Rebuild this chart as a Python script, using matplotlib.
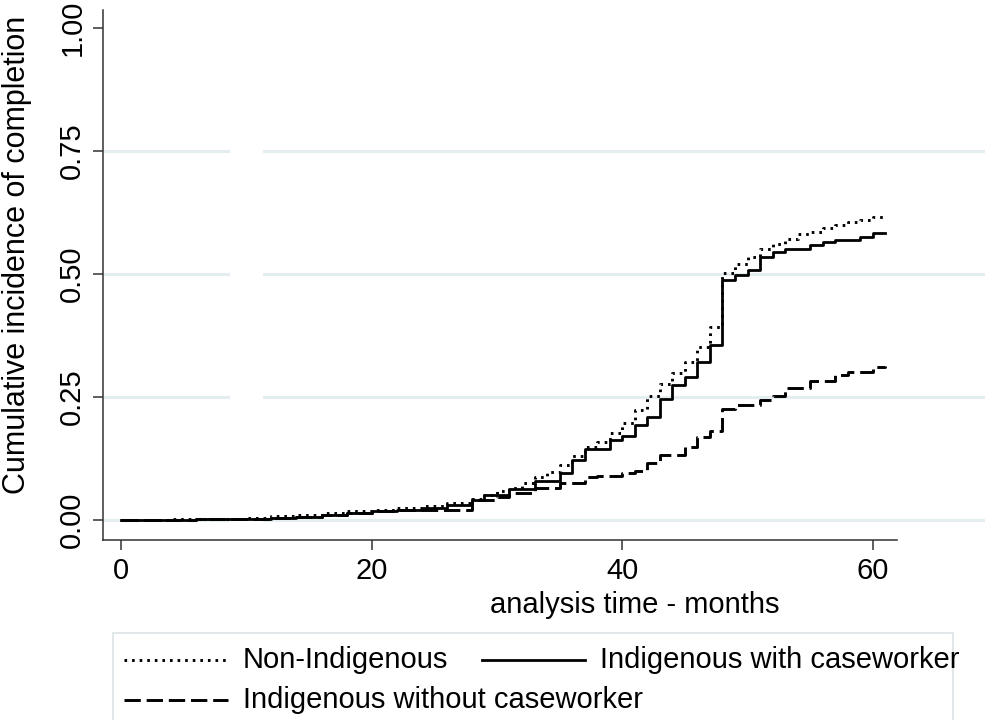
import matplotlib
matplotlib.use('Agg')
import matplotlib.pyplot as plt
from matplotlib.lines import Line2D
from matplotlib.patches import Rectangle

plt.rcParams['font.family'] = ['Liberation Sans', 'DejaVu Sans']

# cumulative incidence (months, value)
months_ni = [0, 4, 6, 8, 10, 12, 14, 16, 18, 20, 22, 24, 26, 28,
             29, 30, 31, 32, 33, 34, 35, 36, 37, 38, 39, 40, 41, 42, 43, 44, 45, 46, 47, 48,
             49, 50, 51, 52, 53, 54, 55, 56, 57, 58, 59, 60, 61]
cif_ni = [0, 0.001, 0.002, 0.003, 0.005, 0.008, 0.011, 0.014, 0.018, 0.021, 0.024, 0.028, 0.034, 0.043,
          0.051, 0.058, 0.064, 0.075, 0.088, 0.098, 0.112, 0.13, 0.148, 0.158, 0.176, 0.197, 0.224,
          0.251, 0.276, 0.298, 0.322, 0.352, 0.393, 0.501,
          0.52, 0.535, 0.55, 0.56, 0.571, 0.581, 0.586, 0.593, 0.6, 0.606, 0.61, 0.616, 0.618]

months_wc = [0, 6, 10, 12, 14, 16, 18, 20, 22, 24, 26, 28,
             29, 31, 33, 35, 36, 37, 39, 40, 41, 42, 43, 44, 45, 46, 47, 48,
             49, 50, 51, 52, 53, 55, 56, 57, 59, 60, 61]
cif_wc = [0, 0.001, 0.002, 0.004, 0.007, 0.01, 0.015, 0.018, 0.02, 0.025, 0.031, 0.04,
          0.05, 0.063, 0.08, 0.095, 0.122, 0.144, 0.163, 0.171, 0.193, 0.21, 0.246, 0.274,
          0.291, 0.322, 0.356, 0.488,
          0.498, 0.508, 0.534, 0.545, 0.551, 0.559, 0.566, 0.569, 0.576, 0.583, 0.584]

months_woc = [0, 6, 10, 12, 14, 16, 18, 20, 22, 24, 28,
              30, 31, 33, 35, 37, 38, 40, 41, 42, 43, 45, 46, 47, 48,
              49, 51, 52, 53, 55, 57, 58, 60, 61]
cif_woc = [0, 0.001, 0.002, 0.004, 0.006, 0.01, 0.015, 0.018, 0.02, 0.021, 0.04,
           0.047, 0.055, 0.064, 0.075, 0.088, 0.09, 0.095, 0.1, 0.115, 0.132, 0.149, 0.169,
           0.181, 0.225,
           0.234, 0.244, 0.252, 0.268, 0.283, 0.295, 0.301, 0.31, 0.312]

labels = ['Non-Indigenous', 'Indigenous with caseworker', 'Indigenous without caseworker']
xticks = [0, 20, 40, 60]
yticks = [0, 0.25, 0.5, 0.75, 1.0]

W, H = 985, 720
FS = 21
GRID = '#e4eef0'
DOT = (0, (0.9, 1.7))
DASH = (0, (5.6, 2.0))
LW_DOT, LW_SOLID, LW_DASH = 2.1, 2.0, 2.1


def fx(px):
    return px / W


def fy(py):
    return 1 - py / H


fig = plt.figure(figsize=(W / 100, H / 100), dpi=100)
ax = fig.add_axes([fx(103), fy(540), 1 - fx(103), fy(10) - fy(540)])
ax.set_xlim(-1.44, 68.95)
ax.set_ylim(-0.0407, 1.0366)

# grid lines (with the little gap seen in the reference)
for yv in yticks[:-1]:
    ax.plot([-1.44, 8.54], [yv, yv], color=GRID, lw=2.2, zorder=0)
    ax.plot([11.41, 68.95], [yv, yv], color=GRID, lw=2.2, zorder=0)

ax.step(months_ni, cif_ni, where='post', color='black', lw=LW_DOT, linestyle=DOT)
ax.step(months_wc, cif_wc, where='post', color='black', lw=LW_SOLID)
ax.step(months_woc, cif_woc, where='post', color='black', lw=LW_DASH, linestyle=DASH)

for s in ['top', 'right']:
    ax.spines[s].set_visible(False)
for s in ['left', 'bottom']:
    ax.spines[s].set_color('#333333')
    ax.spines[s].set_linewidth(1.1)
ax.spines['bottom'].set_bounds(-1.44, 61.9)

ax.set_xticks(xticks)
ax.set_xticklabels([str(v) for v in xticks], fontsize=FS)
ax.set_yticks(yticks)
ax.set_yticklabels(['%.2f' % v for v in yticks], fontsize=FS, rotation=90, va='center')
ax.tick_params(axis='both', length=7, width=1.1, color='#333333', pad=5)

fig.text(fx(635), fy(605), 'analysis time - months', fontsize=FS, ha='center', va='center')
fig.text(fx(17), fy(255), 'Cumulative incidence of completion', fontsize=FS + 1,
         rotation=90, ha='center', va='center')

# legend drawn by hand to keep Stata's layout
fig.add_artist(Rectangle((fx(113), fy(740)), fx(953) - fx(113), fy(633) - fy(740),
                         transform=fig.transFigure, fill=False, edgecolor='#e2e8ea', lw=1.5))
handles = [
    (124, 228, 660, DOT, LW_DOT, labels[0], 243),
    (482, 585, 660, '-', LW_SOLID, labels[1], 600),
    (124, 228, 700, DASH, LW_DASH, labels[2], 243),
]
for x0, x1, yy, ls, lw, lab, tx in handles:
    fig.add_artist(Line2D([fx(x0), fx(x1)], [fy(yy), fy(yy)], transform=fig.transFigure,
                          color='black', lw=lw, linestyle=ls))
    fig.text(fx(tx), fy(yy), lab, fontsize=FS, ha='left', va='center')

plt.savefig('out.png', dpi=100)
